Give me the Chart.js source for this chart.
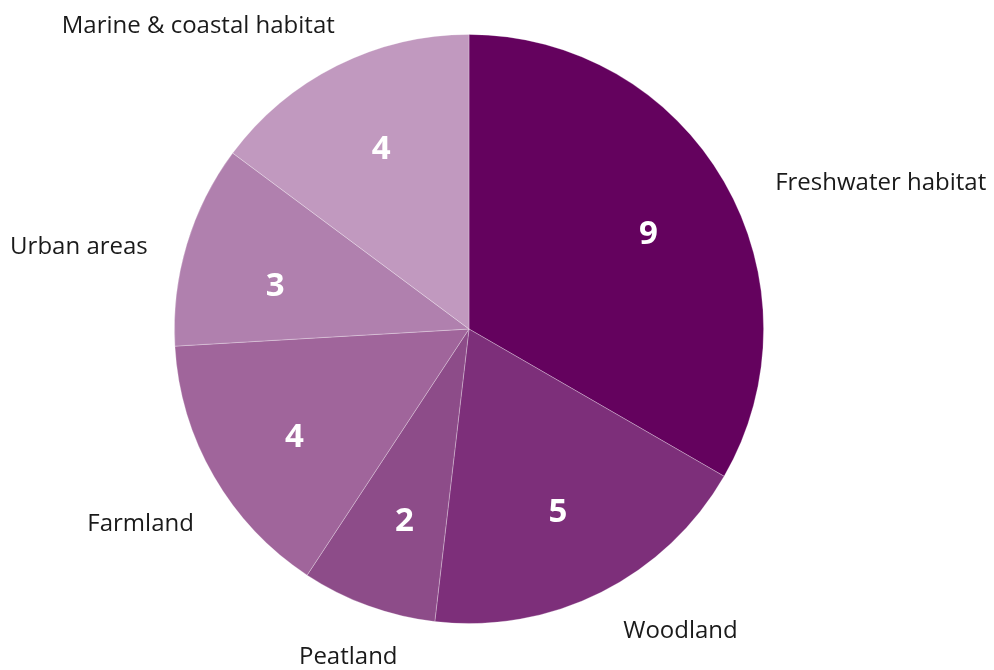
<!DOCTYPE html>
<html>
<head>
<meta charset="utf-8">
<script src="https://cdn.jsdelivr.net/npm/chart.js@4"></script>
<style>
  html, body { margin: 0; padding: 0; background: #ffffff; }
  #wrap { width: 994px; height: 670px; position: relative; }
</style>
</head>
<body>
<div id="wrap"><canvas id="c" width="994" height="670"></canvas></div>
<script>
const categories = ["Freshwater habitat", "Woodland", "Peatland", "Farmland", "Urban areas", "Marine & coastal habitat"];
const counts = [9, 5, 2, 4, 3, 4];
const sliceColors = ["#64025E", "#7D2F7A", "#8D4C89", "#A0659B", "#B080AE", "#C199BF"];
// label placement style: alignment and nudge (px) from the slice's outer edge
const labelAlign = ["left", "left", "center", "right", "right", "right"];
const labelNudge = [[51, 1], [22, 39], [-20, 51], [-20, 48], [-39, 3], [-2, -40]];
// nudge (px) for the value labels inside the slices
const valueNudge = [[6, 6], [-1, 5], [4, 4], [-1, 8], [-2, 15], [2, 0]];

const labelsPlugin = {
  id: "sliceLabels",
  afterDatasetsDraw(chart) {
    const ctx = chart.ctx;
    const meta = chart.getDatasetMeta(0);
    meta.data.forEach((arc, i) => {
      const mid = (arc.startAngle + arc.endAngle) / 2;
      const cx = arc.x, cy = arc.y, r = arc.outerRadius;
      const ir = r * 0.68;
      ctx.save();
      ctx.fillStyle = "#ffffff";
      ctx.font = "bold 33px 'Open Sans', sans-serif";
      ctx.textAlign = "center";
      ctx.textBaseline = "middle";
      ctx.fillText(String(counts[i]), cx + Math.cos(mid) * ir + valueNudge[i][0], cy + Math.sin(mid) * ir + valueNudge[i][1]);
      const ex = cx + Math.cos(mid) * r, ey = cy + Math.sin(mid) * r;
      ctx.fillStyle = "#1a1a1a";
      ctx.font = "24px 'Open Sans', sans-serif";
      ctx.textAlign = labelAlign[i];
      ctx.fillText(categories[i], ex + labelNudge[i][0], ey + labelNudge[i][1]);
      ctx.restore();
    });
  }
};

new Chart(document.getElementById("c"), {
  type: "pie",
  data: {
    labels: categories,
    datasets: [{
      data: counts,
      backgroundColor: sliceColors,
      borderColor: "rgba(255,255,255,0.35)",
      borderWidth: 0.8
    }]
  },
  options: {
    responsive: false,
    animation: false,
    layout: { padding: { top: 34, bottom: 46, left: 100, right: 156 } },
    plugins: { legend: { display: false }, tooltip: { enabled: false } }
  },
  plugins: [labelsPlugin]
});
</script>
</body>
</html>
